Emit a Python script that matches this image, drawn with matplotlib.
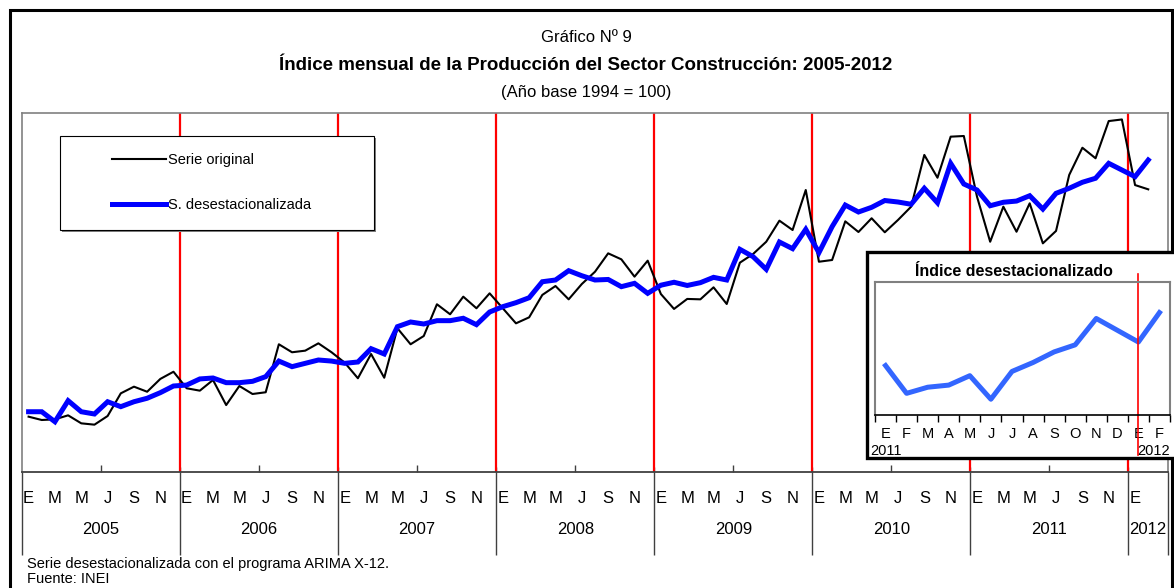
import matplotlib.pyplot as plt
from matplotlib.patches import Rectangle
from matplotlib.lines import Line2D

plt.switch_backend('agg')

W, H = 1174, 588
NARROW = ['Liberation Sans Narrow', 'Liberation Sans', 'DejaVu Sans']
ARIAL = ['Liberation Sans', 'DejaVu Sans']

# Datos (indice, año base 1994 = 100), enero 2005 - febrero 2012
years = ['2005', '2006', '2007', '2008', '2009', '2010', '2011', '2012']
month_letters = ['E', 'F', 'M', 'A', 'M', 'J', 'J', 'A', 'S', 'O', 'N', 'D']

serie_original = [
    151.5, 149.0, 149.5, 152.5, 146.5, 145.5, 152.0, 169.0, 174.0, 170.2, 179.8, 185.2,
    172.8, 171.0, 179.0, 160.2, 174.5, 168.5, 169.8, 205.8, 199.8, 201.0, 206.5, 199.8,
    192.0, 180.3, 198.5, 180.7, 217.8, 205.8, 212.0, 235.8, 228.3, 241.5, 232.8, 244.0,
    232.8, 221.5, 226.0, 242.8, 249.5, 239.5, 251.0, 260.2, 274.0, 269.5, 256.5, 268.5,
    243.5, 232.3, 239.8, 239.5, 248.5, 236.0, 267.0, 273.5, 282.7, 298.5, 291.5, 321.5,
    267.7, 269.0, 298.0, 290.0, 300.3, 289.8, 299.0, 309.0, 347.8, 330.7, 361.5, 362.0,
    316.5, 282.7, 309.0, 290.2, 311.5, 281.5, 290.8, 332.8, 353.2, 345.3, 373.2, 374.4,
    325.2, 322.0,
]

serie_desest = [
    155.2, 155.2, 147.7, 163.5, 155.2, 153.5, 162.7, 159.0, 162.7, 165.3, 169.5, 174.5,
    175.2, 179.8, 180.5, 177.0, 177.0, 178.0, 181.5, 193.2, 189.0, 191.5, 194.0, 193.2,
    191.5, 192.5, 202.5, 198.5, 219.0, 222.5, 221.0, 223.5, 223.5, 225.3, 220.5, 230.0,
    234.0, 237.0, 240.7, 252.7, 254.0, 261.0, 257.2, 254.0, 254.4, 249.0, 251.5, 244.0,
    250.1, 252.3, 249.9, 252.0, 256.0, 254.0, 277.0, 271.5, 262.0, 282.5, 277.5, 292.0,
    274.5, 294.0, 310.2, 305.0, 308.5, 313.6, 312.5, 310.8, 322.8, 311.9, 341.5, 326.0,
    321.5, 309.7, 312.3, 313.2, 317.2, 307.2, 319.0, 322.8, 327.3, 330.3, 341.5, 336.5,
    331.5, 344.0,
]

inset_labels = ['E', 'F', 'M', 'A', 'M', 'J', 'J', 'A', 'S', 'O', 'N', 'D', 'E', 'F']
inset_start = 72  # enero 2011


def fx(x):
    return x / W


def fy(y):
    return 1 - y / H


fig = plt.figure(figsize=(W / 100, H / 100), dpi=100)
fig.patch.set_facecolor('white')

# Marco exterior
fig.patches.append(Rectangle((fx(10), fy(600)), fx(1172) - fx(10), fy(10) - fy(600),
                             transform=fig.transFigure, fill=False, edgecolor='black',
                             linewidth=2.2, zorder=0))

# Titulos
fig.text(fx(586), fy(37), 'Gráfico Nº 9', ha='center', va='center', fontsize=12, family=NARROW)
fig.text(fx(586), fy(66), 'Índice mensual de la Producción del Sector Construcción: 2005-2012',
         ha='center', va='center', fontsize=13.5, fontweight='bold', family=NARROW)
fig.text(fx(586), fy(93), '(Año base 1994 = 100)', ha='center', va='center', fontsize=12, family=NARROW)

# Grafico principal
ax = fig.add_axes([fx(22), fy(472), fx(1168) - fx(22), (472 - 113) / H])
ax.set_zorder(1)
n_cat = 87
x = list(range(len(serie_original)))
ax.set_xlim(-0.5, n_cat - 0.5)
ax.set_ylim(110, 379.25)

for k in range(1, 8):
    ax.axvline(12 * k - 0.5, color='#FF0000', linewidth=1.6, zorder=1)

ax.plot(x, serie_original, color='black', linewidth=1.5, zorder=2)
ax.plot(x, serie_desest, color='#0000FF', linewidth=3.6, zorder=3, solid_joinstyle='miter')

for side in ['left', 'top', 'right']:
    ax.spines[side].set_color('#808080')
    ax.spines[side].set_linewidth(1.2)
ax.spines['bottom'].set_color('#404040')
ax.spines['bottom'].set_linewidth(1.3)
ax.set_yticks([])

tick_pos = [12 * y + m for y in range(7) for m in range(0, 12, 2)] + [84]
ax.set_xticks(tick_pos)
ax.set_xticklabels([month_letters[p % 12] for p in tick_pos], fontsize=12, family=NARROW)
ax.tick_params(axis='x', which='major', length=0, pad=14)
ax.set_xticks([12 * y + 5.5 for y in range(7)], minor=True)
ax.tick_params(axis='x', which='minor', direction='in', length=5, width=1, color='#404040')

sep_bottom = -(555 - 472) / 359
bounds = [-0.5] + [12 * k - 0.5 for k in range(1, 8)] + [n_cat - 0.5]
ax.vlines(bounds, sep_bottom, 0, transform=ax.get_xaxis_transform(), color='#404040',
          linewidth=1, clip_on=False)
ax.vlines(bounds[1:-1], 0, 5 / 359, transform=ax.get_xaxis_transform(), color='#404040',
          linewidth=1, clip_on=False, zorder=0)
for i, yr in enumerate(years):
    lo, hi = bounds[i], bounds[i + 1]
    ax.text((lo + hi) / 2, -(530 - 472) / 359, yr, transform=ax.get_xaxis_transform(),
            ha='center', va='center', fontsize=12, family=NARROW)

# Leyenda
fig.patches.append(Rectangle((fx(62), fy(232)), fx(376) - fx(62), fy(138) - fy(232),
                             transform=fig.transFigure, facecolor='#808080', edgecolor='none',
                             zorder=2))
fig.patches.append(Rectangle((fx(60), fy(230)), fx(374) - fx(60), fy(136) - fy(230),
                             transform=fig.transFigure, facecolor='white', edgecolor='black',
                             linewidth=0.8, zorder=2.1))
fig.lines.append(Line2D([fx(112), fx(166)], [fy(159), fy(159)], transform=fig.transFigure,
                        color='black', linewidth=1.5, zorder=2.2))
fig.lines.append(Line2D([fx(112), fx(166)], [fy(204), fy(204)], transform=fig.transFigure,
                        color='#0000FF', linewidth=3.6, zorder=2.2))
fig.text(fx(168), fy(160), 'Serie original', va='center', fontsize=10.5, family=ARIAL, zorder=2.3)
fig.text(fx(168), fy(205), 'S. desestacionalizada', va='center', fontsize=10.5, family=ARIAL, zorder=2.3)

# Recuadro: indice desestacionalizado
fig.patches.append(Rectangle((fx(867), fy(458)), fx(1180) - fx(867), fy(252) - fy(458),
                             transform=fig.transFigure, facecolor='white', edgecolor='black',
                             linewidth=2.4, zorder=3))
fig.text(fx(1014), fy(271), 'Índice desestacionalizado', ha='center', va='center',
         fontsize=11.5, fontweight='bold', family=ARIAL, zorder=3.1)

axi = fig.add_axes([fx(875), fy(415), fx(1170) - fx(875), (415 - 282) / H])
axi.set_zorder(4)
inset_vals = serie_desest[inset_start:inset_start + len(inset_labels)]
axi.set_xlim(-0.5, len(inset_labels) - 0.5)
axi.set_ylim(300.5, 357)
axi.plot(range(len(inset_vals)), inset_vals, color='#3366FF', linewidth=3.6)
axi.plot([12, 12], [360.4, 283.5], color='#FF0000', linewidth=1.2, clip_on=False)
for side in ['left', 'top', 'right']:
    axi.spines[side].set_color('#808080')
    axi.spines[side].set_linewidth(1.5)
axi.spines['bottom'].set_color('black')
axi.spines['bottom'].set_linewidth(1.2)
axi.set_yticks([])
axi.set_xticks(range(len(inset_labels)))
axi.set_xticklabels(inset_labels, fontsize=10.5, family=ARIAL)
axi.tick_params(axis='x', which='major', length=0, pad=9)
axi.set_xticks([i - 0.5 for i in range(len(inset_labels) + 1)], minor=True)
axi.tick_params(axis='x', which='minor', direction='out', length=5, width=1, color='black')
axi.text(0, -(451 - 415) / 133, '2011', transform=axi.get_xaxis_transform(), ha='center',
         va='center', fontsize=10.5, family=ARIAL)
axi.text(12.7, -(451 - 415) / 133, '2012', transform=axi.get_xaxis_transform(), ha='center',
         va='center', fontsize=10.5, family=ARIAL)

# Notas
fig.text(fx(27), fy(564), 'Serie desestacionalizada con el programa ARIMA X-12.', va='center',
         fontsize=10.5, family=ARIAL)
fig.text(fx(27), fy(579), 'Fuente: INEI', va='center', fontsize=10.5, family=ARIAL)

fig.savefig('out.png', dpi=100)
